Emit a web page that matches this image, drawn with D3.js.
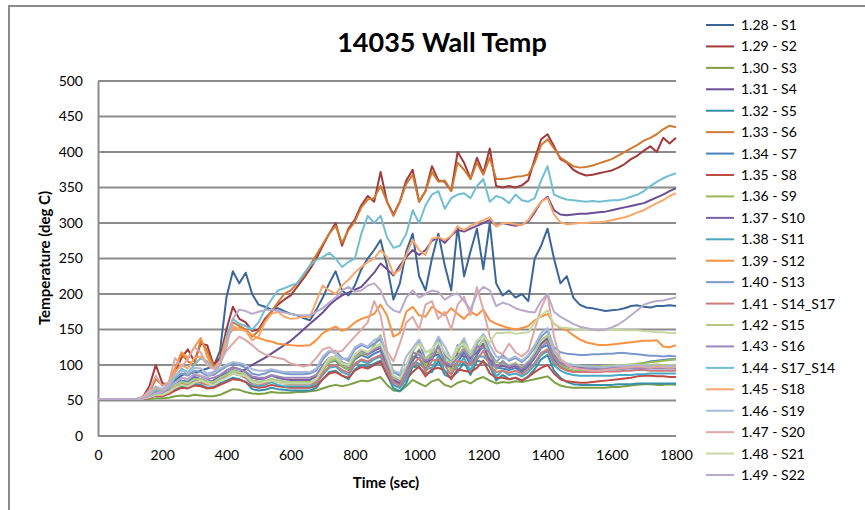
<!DOCTYPE html>
<html>
<head>
<meta charset="utf-8">
<script src="https://cdn.jsdelivr.net/npm/d3@7/dist/d3.min.js"></script>
<style>
  html, body { margin: 0; padding: 0; background: #fff; }
  svg { display: block; }
  text { font-family: Lato, "Open Sans", "Liberation Sans", sans-serif; fill: #000; }
</style>
</head>
<body>
<svg id="chart" width="865" height="510"></svg>
<script>
// Sample times (sec)
const times = [0,20,40,60,80,100,120,140,160,180,
  200,220,240,260,280,300,320,340,360,380,
  400,420,440,460,480,500,520,540,560,580,
  600,620,640,660,680,700,720,740,760,780,
  800,820,840,860,880,900,920,940,960,980,
  1000,1020,1040,1060,1080,1100,1120,1140,1160,1180,
  1200,1220,1240,1260,1280,1300,1320,1340,1360,1380,
  1400,1420,1440,1460,1480,1500,1520,1540,1560,1580,
  1600,1620,1640,1660,1680,1700,1720,1740,1760,1780,1800];

const seriesNames = ["1.28 - S1","1.29 - S2","1.30 - S3","1.31 - S4","1.32 - S5","1.33 - S6",
  "1.34 - S7","1.35 - S8","1.36 - S9","1.37 - S10","1.38 - S11","1.39 - S12",
  "1.40 - S13","1.41 - S14_S17","1.42 - S15","1.43 - S16","1.44 - S17_S14","1.45 - S18",
  "1.46 - S19","1.47 - S20","1.48 - S21","1.49 - S22"];

const seriesColors = ["#3A6699","#A2393A","#7E9F44","#6B4E94","#3690A8","#D07A31",
  "#4A7EBB","#BE4B48","#98B954","#7D60A0","#46AAC5","#F69240",
  "#7B9ACB","#CF7A77","#B1CB84","#9B86B8","#72BED3","#F8A76C",
  "#A9B9D8","#DDA8A6","#C6D9A5","#B7AACB"];

// Wall temperatures (deg C), one value per sample time
const s1 = [52,52,52,52,52,52,52,53,57,62, 66,70,78,85,90,88,92,95,98,120,
  195,232,215,230,200,185,182,178,180,176, 172,170,166,163,178,195,215,232,205,198,
  212,235,250,262,276,240,192,215,260,285, 225,205,250,285,240,205,295,225,260,292,
  235,300,215,198,205,195,200,190,250,268, 292,250,215,225,195,185,181,180,178,176,
  177,178,180,183,184,182,181,183,183,184,183];
const s2 = [52,52,52,52,52,52,52,55,70,100, 75,70,90,110,122,105,130,128,100,110,
  150,182,165,160,148,150,165,175,185,192, 198,210,222,235,250,268,285,300,268,292,
  305,325,338,330,372,330,312,330,360,375, 330,345,380,360,358,345,400,385,362,392,
  370,405,352,350,352,350,353,360,390,418, 425,408,390,385,375,370,367,368,370,372,
  374,378,383,390,395,402,408,400,420,412,420];
const s3 = [52,52,52,52,52,52,52,52,52,53, 53,54,56,57,56,58,57,56,56,58,
  62,66,65,62,60,59,60,62,61,61, 61,62,62,63,64,67,70,72,70,72,
  75,78,77,80,83,72,64,63,70,79, 74,70,77,80,72,69,75,78,74,80,
  83,78,74,76,75,77,76,78,80,82, 84,76,71,69,68,68,68,68,68,68,
  69,69,70,71,72,73,73,72,72,73,72];
const s4 = [52,52,52,52,52,52,52,52,55,58, 60,64,70,75,72,78,80,76,78,82,
  88,92,90,94,100,105,110,116,122,128, 134,142,150,158,166,174,184,192,198,202,
  206,210,220,230,243,235,226,240,252,262, 255,262,275,280,272,282,290,288,292,296,
  300,304,296,300,298,296,298,302,315,330, 337,318,312,311,312,313,313,314,315,316,
  318,320,322,324,326,328,332,336,340,345,349];
const s5 = [52,52,52,52,52,52,52,52,54,57, 56,60,66,70,69,74,72,68,69,74,
  78,82,80,76,66,64,65,68,66,65, 64,64,64,64,68,80,90,92,85,80,
  94,100,97,102,106,86,67,63,74,98, 96,88,90,106,86,82,90,104,86,106,
  104,98,78,86,80,82,78,84,94,108, 114,92,82,76,73,72,72,72,72,72,
  72,73,73,73,74,74,74,74,74,74,74];
const s6 = [52,52,52,52,52,52,52,54,62,80, 72,75,95,115,105,100,135,120,98,105,
  140,160,155,150,140,148,162,175,188,200, 205,215,225,240,255,270,285,296,272,290,
  302,322,333,335,352,330,310,330,355,368, 330,345,372,358,360,345,385,375,362,385,
  368,392,362,362,363,365,366,368,385,410, 418,405,392,386,380,378,379,381,384,387,
  390,395,400,405,410,416,420,425,432,437,435];
const s7 = [52,52,52,52,52,52,52,52,56,61, 59,64,73,78,76,83,80,76,78,83,
  88,93,90,86,78,76,77,80,78,76, 74,74,74,74,78,93,104,106,98,93,
  108,114,110,116,120,98,78,73,85,112, 110,96,112,115,100,96,104,118,100,114,
  128,104,96,95,93,96,90,98,110,124, 128,108,98,94,92,92,93,93,93,94,
  94,94,95,97,100,103,105,106,107,108,108];
const s8 = [52,52,52,52,52,52,52,52,54,57, 56,59,64,68,67,71,70,67,68,72,
  76,80,79,76,70,68,69,72,70,69, 68,68,68,68,71,80,88,90,85,82,
  92,97,95,100,104,86,72,68,80,90, 98,84,94,96,92,80,94,92,90,96,
  106,88,82,82,80,82,78,83,90,96, 100,88,80,77,76,75,75,76,77,78,
  79,80,81,82,84,85,85,84,84,83,83];
const s9 = [52,52,52,52,52,52,52,52,55,60, 58,62,70,76,74,80,78,74,76,80,
  86,92,88,84,76,74,76,80,78,76, 75,75,75,75,78,92,104,108,98,94,
  110,116,114,128,142,110,82,76,96,108, 122,98,116,118,110,92,118,136,104,128,
  126,116,94,106,96,100,94,102,115,130, 135,112,100,95,92,92,93,94,95,96,
  97,98,99,100,102,103,104,105,106,107,108];
const s10 = [52,52,52,52,52,52,52,52,55,59, 58,63,72,78,76,82,80,76,78,84,
  92,97,94,90,82,80,81,85,82,80, 79,79,79,79,84,98,110,112,102,97,
  112,118,115,120,124,102,80,74,94,106, 120,104,108,126,102,98,116,112,110,118,
  130,108,98,99,96,99,93,102,114,130, 138,115,104,100,98,97,96,96,96,96,
  96,96,96,97,97,97,97,97,97,97,97];
const s11 = [52,52,52,52,52,52,52,52,55,60, 58,63,72,77,75,80,78,74,75,80,
  84,88,86,82,72,70,72,76,72,70, 70,70,70,70,74,86,96,98,90,86,
  100,106,102,108,112,92,72,68,80,104, 102,94,96,112,92,88,98,110,92,112,
  112,104,84,92,86,88,84,90,100,114, 120,100,92,88,86,85,85,85,85,85,
  85,86,86,86,87,87,88,88,88,88,88];
const s12 = [52,52,52,52,52,52,52,53,58,65, 62,72,95,118,110,125,138,112,95,105,
  138,150,152,148,142,138,135,133,130,129, 128,127,127,128,135,145,150,154,148,152,
  160,165,168,172,185,170,140,145,175,182, 170,168,182,175,170,180,172,165,175,170,
  178,163,158,155,152,150,152,155,163,168, 172,158,152,149,142,136,132,130,128,128,
  129,130,131,132,133,134,134,135,126,125,128];
const s13 = [52,52,52,52,52,52,52,53,60,66, 63,70,82,88,85,92,90,85,86,92,
  98,102,100,96,88,86,88,92,90,88, 87,87,87,88,92,108,118,120,110,106,
  122,128,124,130,136,112,90,85,98,120, 132,108,118,138,114,104,128,126,112,130,
  142,118,104,114,106,110,104,112,124,140, 148,125,118,116,115,114,114,115,115,116,
  116,117,117,116,115,114,113,113,112,113,112];
const s14 = [52,52,52,52,52,52,52,52,54,58, 57,61,68,73,71,77,75,72,73,78,
  83,88,86,82,75,73,74,78,76,74, 73,73,73,73,76,88,98,100,93,89,
  102,108,105,110,114,94,76,71,88,100, 110,90,106,108,100,86,106,104,100,108,
  120,100,90,92,89,92,87,94,103,117, 122,104,96,92,90,90,90,90,90,91,
  91,91,92,92,93,93,92,92,92,92,92];
const s15 = [52,52,52,52,52,52,52,53,56,60, 59,63,72,76,74,80,80,76,76,82,
  86,92,90,86,78,76,77,80,78,76, 76,76,76,76,80,96,106,110,102,98,
  112,118,116,124,128,104,82,78,92,118, 116,108,120,122,106,104,112,126,114,122,
  136,112,104,102,100,103,97,105,118,135, 142,118,106,102,100,99,98,98,98,99,
  99,100,100,101,101,100,100,101,100,100,100];
const s16 = [52,52,52,52,52,52,52,53,57,62, 60,66,76,82,80,86,84,80,82,86,
  92,96,94,90,84,82,82,86,84,82, 82,82,82,82,86,100,110,112,104,100,
  114,120,116,122,126,104,84,78,90,118, 114,106,110,128,104,100,110,122,104,126,
  124,118,96,105,98,101,95,103,112,126, 132,112,102,98,96,95,94,94,94,94,
  94,94,95,95,95,95,95,95,95,95,95];
const s17 = [52,52,52,52,52,52,52,53,58,65, 62,70,82,95,90,100,110,105,95,100,
  140,165,158,155,150,160,178,192,205,208, 212,215,228,240,248,252,258,250,238,245,
  250,285,310,300,310,280,265,268,285,318, 300,325,340,345,320,335,340,342,335,352,
  362,330,338,335,328,340,332,330,335,360, 380,340,336,333,332,331,330,331,330,331,
  332,332,334,337,340,345,352,358,363,367,370];
const s18 = [52,52,52,52,52,52,52,53,60,68, 65,72,90,100,95,110,112,100,95,102,
  135,155,150,148,135,140,160,172,175,168, 165,166,168,168,190,212,205,200,212,220,
  230,238,245,250,262,252,228,234,255,276, 262,255,278,280,276,282,295,290,296,300,
  304,308,295,300,300,298,297,304,318,330, 335,312,301,298,299,300,300,301,301,302,
  304,306,308,311,315,318,323,328,332,338,342];
const s19 = [52,52,52,52,52,52,52,54,62,70, 66,72,85,92,88,96,95,88,90,95,
  100,104,103,100,94,92,92,94,92,90, 90,90,90,90,95,112,120,116,108,110,
  125,130,126,135,140,115,92,88,112,124, 136,118,122,140,126,108,124,138,116,132,
  144,128,112,110,108,112,106,114,128,145, 152,122,108,102,100,99,98,98,97,97,
  98,98,99,99,100,99,99,98,98,99,98];
const s20 = [52,52,52,52,52,52,52,55,65,85, 70,75,110,98,108,125,118,100,95,105,
  120,130,140,135,128,120,115,112,110,108, 102,100,98,100,110,122,125,118,120,130,
  140,150,160,190,170,120,105,130,160,168, 150,185,190,165,175,150,185,196,170,210,
  178,140,120,115,130,118,112,120,150,180, 200,140,108,100,96,94,93,92,92,93,
  94,95,96,97,98,97,96,98,97,96,97];
const s21 = [52,52,52,52,52,52,52,53,55,58, 58,62,68,72,70,75,78,74,72,78,
  82,88,86,84,76,74,76,78,76,74, 74,74,74,74,80,95,110,112,102,100,
  115,122,118,125,130,110,85,80,100,122, 130,118,122,132,118,108,125,130,118,135,
  140,132,145,145,146,144,145,146,160,170, 177,158,153,152,151,150,150,149,149,149,
  150,150,149,149,149,148,147,146,146,145,145];
const s22 = [52,52,52,52,52,52,52,53,56,60, 62,68,75,82,80,88,85,82,90,100,
  125,165,178,176,172,175,177,178,176,174, 172,170,170,170,175,180,188,195,205,210,
  203,205,212,215,205,185,177,174,195,205, 195,200,205,203,192,198,201,190,178,200,
  210,205,183,188,185,180,177,175,174,190, 200,175,168,163,158,154,152,150,149,150,
  153,157,163,170,177,185,188,190,191,193,195];

const allSeries = [s1,s2,s3,s4,s5,s6,s7,s8,s9,s10,s11,s12,s13,s14,s15,s16,s17,s18,s19,s20,s21,s22];

const yTicks = [0,50,100,150,200,250,300,350,400,450,500];
const xTicks = [0,200,400,600,800,1000,1200,1400,1600,1800];

const svg = d3.select("#chart");

// Chart frame
svg.append("path")
  .attr("d", "M9,510 V6 H865")
  .attr("fill", "none").attr("stroke", "#8a8a8a").attr("stroke-width", 2);

const x = d3.scaleLinear().domain([0, 1800]).range([98, 676]);
const y = d3.scaleLinear().domain([0, 500]).range([436, 81]);

// Horizontal gridlines
svg.append("g").selectAll("line").data(yTicks).join("line")
  .attr("x1", x(0)).attr("x2", x(1800))
  .attr("y1", d => y(d)).attr("y2", d => y(d))
  .attr("stroke", "#8c8c8c").attr("stroke-width", 2);

// Y axis
const yAxis = svg.append("g").attr("transform", `translate(${x(0)},0)`)
  .call(d3.axisLeft(y).tickValues(yTicks).tickSize(0).tickPadding(15));
yAxis.select(".domain").attr("stroke", "#8c8c8c").attr("stroke-width", 2);
yAxis.selectAll("text").style("font-size", "14px").style("font-family", "Lato, sans-serif");

// X axis
const xAxis = svg.append("g").attr("transform", `translate(0,${y(0)})`)
  .call(d3.axisBottom(x).tickValues(xTicks).tickSize(0).tickPadding(14).tickFormat(d3.format("d")));
xAxis.select(".domain").remove();
xAxis.selectAll("text").style("font-size", "14px").style("font-family", "Lato, sans-serif");

// Series lines
const line = d3.line().x((d, i) => x(times[i])).y(d => y(d));
svg.append("g").selectAll("path").data(allSeries).join("path")
  .attr("d", d => line(d))
  .attr("fill", "none")
  .attr("stroke", (d, i) => seriesColors[i])
  .attr("stroke-width", 2)
  .attr("stroke-linejoin", "round");

// Title and axis titles
svg.append("text").attr("x", 442).attr("y", 52).attr("text-anchor", "middle")
  .style("font-size", "27px").style("font-weight", "bold").text("14035 Wall Temp");
svg.append("text").attr("x", 386).attr("y", 488).attr("text-anchor", "middle")
  .style("font-size", "15px").style("font-weight", "bold").text("Time (sec)");
svg.append("text").attr("transform", "translate(50,258) rotate(-90)").attr("text-anchor", "middle")
  .style("font-size", "15px").style("font-weight", "bold").text("Temperature (deg C)");

// Legend
const legend = svg.append("g").selectAll("g").data(seriesNames).join("g")
  .attr("transform", (d, i) => `translate(706,${25 + i * 21.43})`);
legend.append("line").attr("x1", 0).attr("x2", 28).attr("y1", 0).attr("y2", 0)
  .attr("stroke", (d, i) => seriesColors[i]).attr("stroke-width", 2);
legend.append("text").attr("x", 35).attr("y", 5)
  .style("font-size", "14px").text(d => d);
</script>
</body>
</html>
